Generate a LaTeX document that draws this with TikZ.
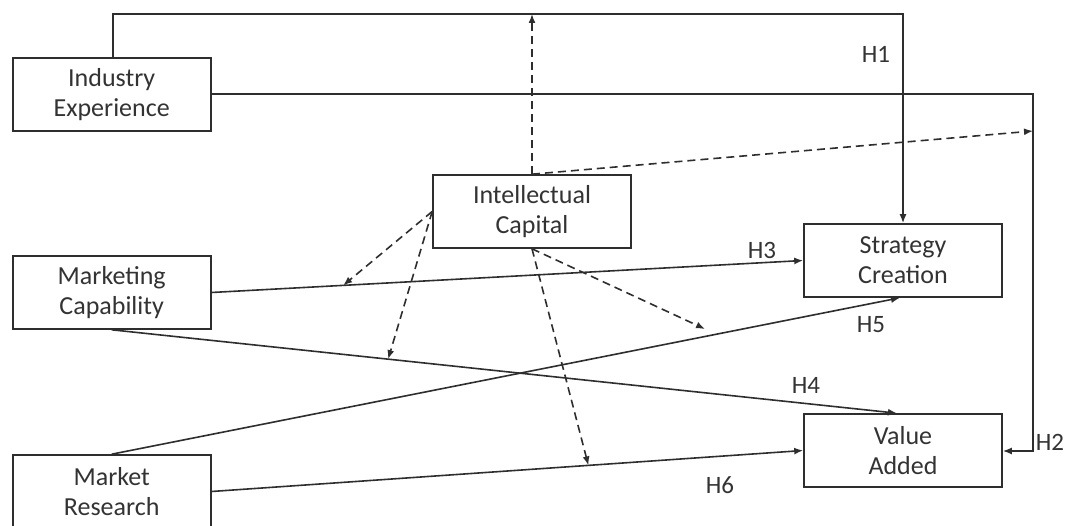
\documentclass[tikz,border=0pt]{standalone}
\usepackage{fontspec}
\setmainfont{Carlito}
\usetikzlibrary{arrows.meta}
\definecolor{ink}{HTML}{2E2E2E}
\definecolor{txt}{HTML}{333333}
\tikzset{
  box/.style={draw=ink, line width=1.6pt, fill=white, minimum width=198pt, minimum height=73pt,
    align=center, inner sep=0pt, text=txt, font=\fontsize{26}{30}\selectfont},
  conn/.style={draw=ink, line width=1.6pt},
  arr/.style={conn, -{Latex[length=9pt,width=7pt]}},
  darr/.style={arr, dash pattern=on 8pt off 5pt},
  hlab/.style={text=txt, font=\fontsize{25}{28}\selectfont, inner sep=0pt}
}
\begin{document}
\begin{tikzpicture}[x=1pt,y=-1pt]
\useasboundingbox (0,0) rectangle (1069,526);
% boxes
\node[box] (ie) at (111.7,94.5) {Industry\\Experience};
\node[box] (ic) at (532,211.5) {Intellectual\\Capital};
\node[box] (mc) at (111.7,292.5) {Marketing\\Capability};
\node[box] (sc) at (903,260.5) {Strategy\\Creation};
\node[box] (va) at (903,450.5) {Value\\Added};
\node[box] (mr) at (111.7,491.5) {Market\\Research};
% corner coordinates
\coordinate (t1) at (113,14);
\coordinate (t2) at (903,14);
\coordinate (icup) at (532,14);
\coordinate (r1) at (1033,94);
\coordinate (r2) at (1033,451);
\coordinate (r3) at (1033,131);
% H1
\draw[arr] (ie.north -| t1) -- (t1) -- (t2) -- (sc.north);
% H2
\draw[arr] (ie.east |- r1) -- (r1) -- (r2) -- (va.east |- r2);
% H3
\draw[arr] (mc.east) -- coordinate[pos=0.2226] (p3) (sc.west);
% H4
\draw[arr] (mc.south) -- coordinate[pos=0.352] (p4) ([xshift=-6pt]va.north);
% H5
\draw[arr] (mr.north) -- ([xshift=-3pt]sc.south);
\coordinate (p5) at (705,329);
% H6
\draw[arr] (mr.east) -- coordinate[pos=0.637] (p6) (va.west);
% dashed moderating arrows
\draw[darr] (ic.north) -- (icup);
\draw[darr] (ic.north) -- (r3);
\draw[darr] (ic.west) -- (p3);
\draw[darr] (ic.west) -- (p4);
\draw[darr] (ic.south) -- (p6);
\draw[darr] (ic.south) -- (p5);
% labels
\node[hlab] (h1) at (876,54) {H1};
\node[hlab] (h2) at (1050,442) {H2};
\node[hlab] (h3) at (762,250) {H3};
\node[hlab] (h4) at (806,385) {H4};
\node[hlab] (h5) at (871,325) {H5};
\node[hlab] (h6) at (720,485) {H6};
\end{tikzpicture}
\end{document}
